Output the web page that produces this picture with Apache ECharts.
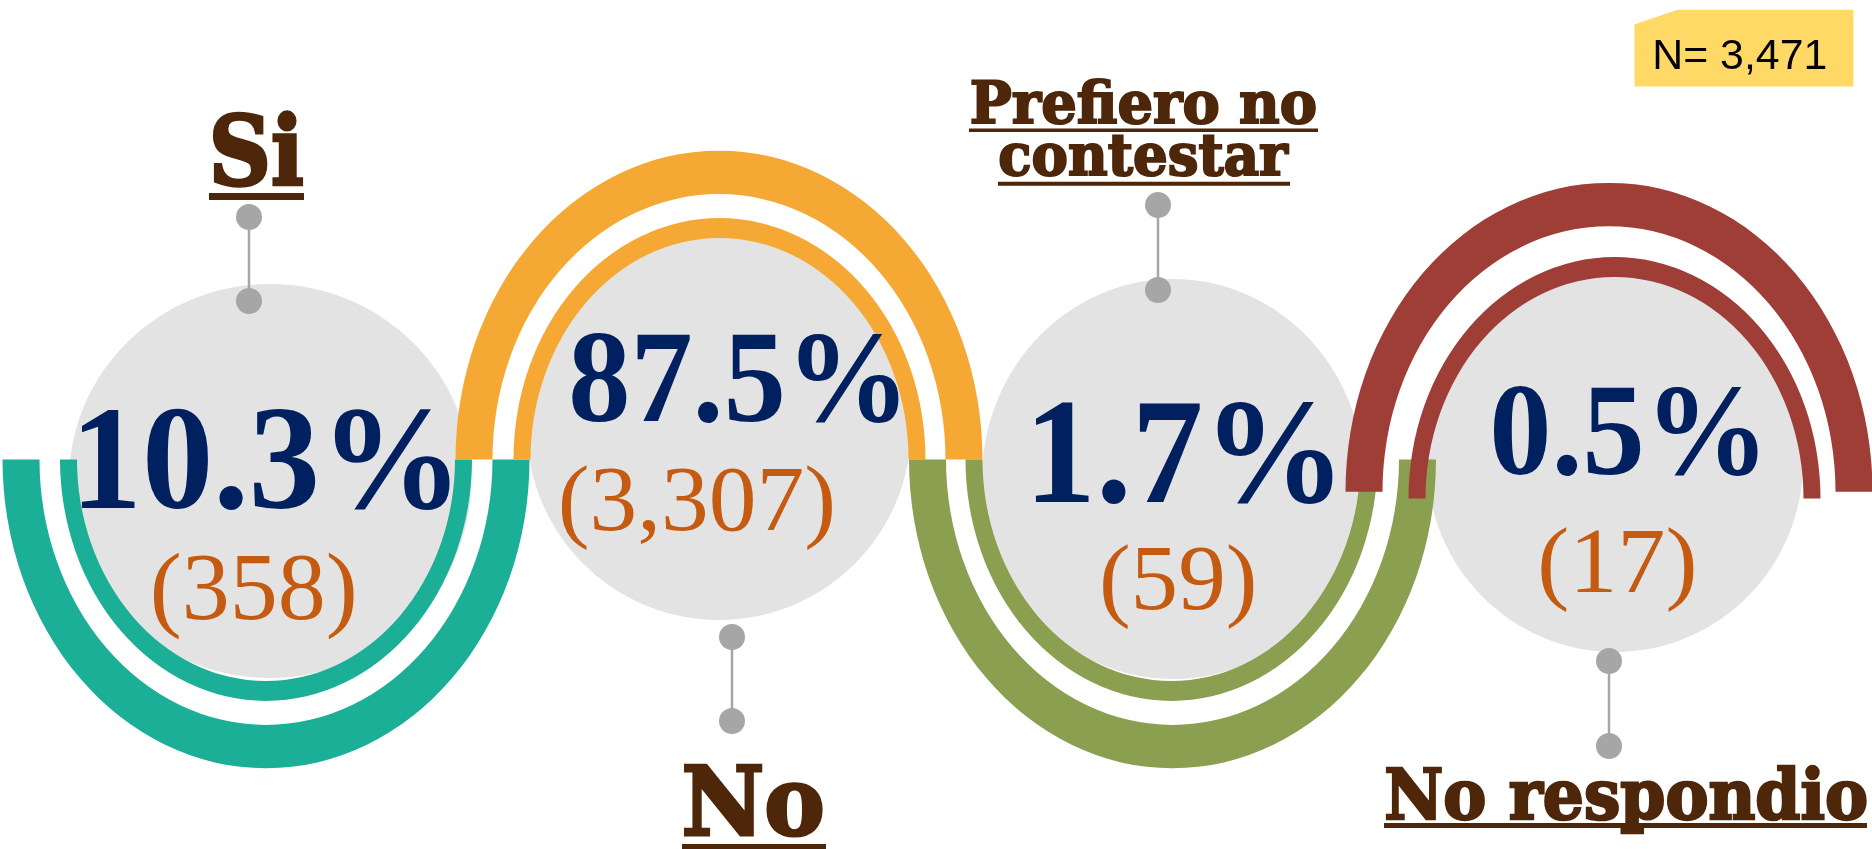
<!DOCTYPE html>
<html><head><meta charset="utf-8">
<script src="https://cdn.jsdelivr.net/npm/echarts/dist/echarts.min.js"></script>
<style>html,body{margin:0;padding:0;background:#fff;overflow:hidden}#c{width:1872px;height:849px}</style>
</head><body><div id="c"></div>
<script>
// ---------------- data ----------------
const categories = ['Si', 'No', 'Prefiero no\ncontestar', 'No respondio'];
const percents = [10.3, 87.5, 1.7, 0.5];
const counts = [358, 3307, 59, 17];
const totalN = 3471;

// ---------------- styles ----------------
const ringColors = ['#1BAF98', '#F5A934', '#8A9F4F', '#9F3D37'];
const discColor = '#E3E3E3';
const pinColor = '#A6A6A6';
const pctColor = '#002060';
const cntColor = '#C55A11';
const labelColor = '#4E2609';

// ---------------- layout (px) ----------------
const RING = { outer: [226.5, 263.5], inner: [189, 206], sy: 1.172 };
const arcLayout = [
  { up: false, outer: [266, 459.5], inner: [266, 459.5] },
  { up: true,  outer: [719, 459.5], inner: [719.5, 459.5] },
  { up: false, outer: [1172.5, 459.5], inner: [1171.5, 459.5] },
  { up: true,  outer: [1609, 491.7], inner: [1614.5, 498.5] }
];
const discLayout = [[270, 481, 201, 197], [719, 428, 192, 192], [1173, 479, 191, 200], [1615, 462, 188, 190]];
const pinLayout = [[249, 217, 301], [732, 637, 721], [1158, 205, 290], [1609, 661, 746]];
const labelBoxes = [
  [[212.5, 303.6, 111.2, 187.1]],
  [[683.6, 823, 763.7, 837]],
  [[971, 1316, 79, 125], [999.5, 1289.6, 134.6, 176.7]],
  [[1385.7, 1867, 766, 835]]
];
const labelStroke = [[3], [3], [2, 2], [2.4]];
const underlineLayout = [
  [[209, 304, 193, 7]],
  [[682, 826, 844, 6]],
  [[969, 1318, 128.5, 3.5], [998, 1290, 181.8, 4]],
  [[1384, 1867, 823, 5]]
];
const pctBoxes = [[82, 450, 410, 511], [572, 899, 335, 424], [1036, 1333, 403, 505], [1493, 1758, 387, 476.5]];
const cntBoxes = [[153.6, 353.6, 553.2, 640.2], [561.5, 831.9, 465.2, 550.1], [1102.7, 1253.3, 544.1, 629.3], [1541, 1693.3, 527.3, 612.7]];
const nBox = { poly: [[1634.5, 24.4], [1677.6, 9.7], [1853.4, 9.7], [1853.4, 86.6], [1634.5, 86.6]], text: [1655.7, 1825.3, 39] };

const FONT_PCT = 'bold {s}px "Liberation Serif"';
const FONT_CNT = '{s}px "Liberation Serif"';
const FONT_LBL = 'bold {s}px "DejaVu Serif"';
const FONT_N = '{s}px "Liberation Sans"';

// ---------------- helpers ----------------
const mctx = document.createElement('canvas').getContext('2d');
function fitText(text, font, box0, fill, z2, uniform, strokeW) {
  const lw = strokeW || 0;
  const box = [box0[0] + lw / 2, box0[1] - lw / 2, box0[2] + lw / 2, box0[3] - lw / 2];
  mctx.font = font.replace('{s}', '100');
  mctx.textAlign = 'left';
  mctx.textBaseline = 'middle';
  const m = mctx.measureText(text);
  const w = m.actualBoundingBoxLeft + m.actualBoundingBoxRight;
  const h = m.actualBoundingBoxAscent + m.actualBoundingBoxDescent;
  const sx = (box[1] - box[0]) / w;
  const sy = uniform ? sx : (box[3] - box[2]) / h;
  const style = {
    text: text,
    font: font.replace('{s}', (100 * sx).toFixed(2)),
    fill: fill,
    align: 'left', verticalAlign: 'middle',
    textAlign: 'left', textVerticalAlign: 'middle'
  };
  if (lw) { style.stroke = fill; style.lineWidth = lw / (sy / sx > 1 ? 1 : 1); style.lineJoin = 'round'; }
  return {
    type: 'text',
    x: box[0] + m.actualBoundingBoxLeft * sx,
    y: box[2] + m.actualBoundingBoxAscent * sy,
    scaleY: sy / sx,
    z2: z2,
    silent: true,
    style: style
  };
}
function band(c, r0, r, up, color) {
  return {
    type: 'sector', x: c[0], y: c[1], scaleY: RING.sy, z2: 2, silent: true,
    shape: { cx: 0, cy: 0, r0: r0, r: r,
      startAngle: up ? Math.PI : 0, endAngle: up ? 2 * Math.PI : Math.PI, clockwise: true },
    style: { fill: color }
  };
}

function renderItem(params, api) {
  const i = params.dataIndex;
  const pct = api.value(0), cnt = api.value(1);
  const A = arcLayout[i], D = discLayout[i], P = pinLayout[i];
  const ch = [];
  ch.push({ type: 'ellipse', z2: 1, silent: true, shape: { cx: D[0], cy: D[1], rx: D[2], ry: D[3] }, style: { fill: discColor } });
  ch.push(band(A.outer, RING.outer[0], RING.outer[1], A.up, ringColors[i]));
  ch.push(band(A.inner, RING.inner[0], RING.inner[1], A.up, ringColors[i]));
  ch.push({ type: 'line', z2: 3, silent: true, shape: { x1: P[0], y1: P[1], x2: P[0], y2: P[2] }, style: { stroke: pinColor, lineWidth: 2.5 } });
  ch.push({ type: 'circle', z2: 3, silent: true, shape: { cx: P[0], cy: P[1], r: 13 }, style: { fill: pinColor } });
  ch.push({ type: 'circle', z2: 3, silent: true, shape: { cx: P[0], cy: P[2], r: 13 }, style: { fill: pinColor } });
  ch.push(fitText(pct.toFixed(1) + '%', FONT_PCT, pctBoxes[i], pctColor, 4));
  ch.push(fitText('(' + cnt.toLocaleString('en-US') + ')', FONT_CNT, cntBoxes[i], cntColor, 4));
  categories[i].split('\n').forEach(function (line, k) {
    ch.push(fitText(line, FONT_LBL, labelBoxes[i][k], labelColor, 4, false, labelStroke[i][k]));
    const u = underlineLayout[i][k];
    ch.push({ type: 'rect', z2: 4, silent: true, shape: { x: u[0], y: u[2], width: u[1] - u[0], height: u[3] }, style: { fill: labelColor } });
  });
  return { type: 'group', children: ch };
}

const chart = echarts.init(document.getElementById('c'), null, { renderer: 'canvas', width: 1872, height: 849 });
const nText = fitText('N= ' + totalN.toLocaleString('en-US'), FONT_N, [nBox.text[0], nBox.text[1], nBox.text[2], 0], '#000000', 6, true);
chart.setOption({
  animation: false,
  backgroundColor: '#ffffff',
  graphic: [
    { type: 'polygon', z: 10, silent: true, shape: { points: nBox.poly }, style: { fill: '#FFD966' } },
    Object.assign(nText, { z: 11 })
  ],
  series: [{
    type: 'custom',
    coordinateSystem: 'none',
    silent: true,
    renderItem: renderItem,
    data: categories.map(function (c, i) { return { name: c, value: [percents[i], counts[i]] }; })
  }]
});
</script>
</body></html>
